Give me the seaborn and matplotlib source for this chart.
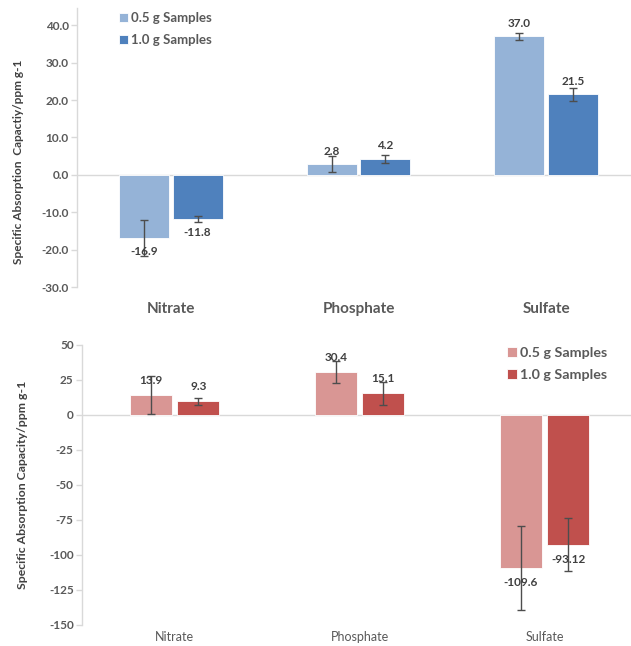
import matplotlib
matplotlib.use("Agg")
import matplotlib.pyplot as plt
import seaborn as sns
import pandas as pd
import numpy as np

# Ion categories and sample-mass series
anions = ["Nitrate", "Phosphate", "Sulfate"]
series = ["0.5 g Samples", "1.0 g Samples"]

# Upper panel: specific absorption capacity and error
top_05 = [-16.9, 2.8, 37.0]
top_10 = [-11.8, 4.2, 21.5]
top_05_err = [4.7, 2.1, 1.0]
top_10_err = [0.8, 1.0, 1.8]
top_ticks = [40.0, 30.0, 20.0, 10.0, 0.0, -10.0, -20.0, -30.0]

# Lower panel: specific absorption capacity and error
bot_05 = [13.9, 30.4, -109.6]
bot_10 = [9.3, 15.1, -93.12]
bot_05_err = [13.5, 8.1, 30.0]
bot_10_err = [2.5, 8.0, 19.0]
bot_labels_05 = ["13.9", "30.4", "-109.6"]
bot_labels_10 = ["9.3", "15.1", "-93.12"]
bot_ticks = [50, 25, 0, -25, -50, -75, -100, -125, -150]

sns.set_theme(style="white")
plt.rcParams["font.family"] = ["Lato", "DejaVu Sans"]

TEXT = "#595959"
LABEL = "#404040"
GRID = "#D9D9D9"


def frame(v05, v10):
    return pd.DataFrame({
        "anion": anions * 2,
        "series": [series[0]] * 3 + [series[1]] * 3,
        "value": list(v05) + list(v10),
    })


def draw(ax, df, palette, width, gap, errs, labels, offset):
    sns.barplot(data=df, x="anion", y="value", hue="series", order=anions,
                hue_order=series, palette=palette, width=width, gap=gap,
                errorbar=None, ax=ax, saturation=1, edgecolor="white",
                linewidth=0.6)
    for cont, err, labs, vals in zip(ax.containers, errs, labels,
                                     [df.value[:3].tolist(), df.value[3:].tolist()]):
        xs = [b.get_x() + b.get_width() / 2 for b in cont]
        ax.errorbar(xs, vals, yerr=err, fmt="none", ecolor="#4D4D4D",
                    elinewidth=1.0, capsize=3, capthick=1.0, zorder=4)
        for x, v, t in zip(xs, vals, labs):
            ax.annotate(t, (x, v), xytext=(0, offset if v >= 0 else -offset),
                        textcoords="offset points", ha="center", va="center",
                        fontsize=8.5, fontweight="bold", color=LABEL, zorder=5)
    ax.axhline(0, color=GRID, lw=1.0, zorder=0)
    for s in ["top", "right", "bottom"]:
        ax.spines[s].set_visible(False)
    ax.spines["left"].set_color(GRID)
    ax.spines["left"].set_linewidth(1.0)
    ax.tick_params(axis="y", which="both", left=True, length=4, width=1.0,
                   color=GRID, labelcolor=TEXT, pad=2)
    ax.tick_params(axis="x", length=0)
    ax.set_xlabel("")
    ax.set_xlim(-0.5, 2.5)


fig = plt.figure(figsize=(6.31, 6.46), dpi=100)

# ---- upper panel (blue) ----
ax1 = fig.add_axes([77 / 631, 1 - 287 / 646, (640 - 77) / 631, 279 / 646])
draw(ax1, frame(top_05, top_10), ["#95B3D7", "#4F81BD"], 0.57, 0.067,
     [top_05_err, top_10_err],
     [[f"{v:.1f}" for v in top_05], [f"{v:.1f}" for v in top_10]], 9.5)
ax1.set_ylim(-30, 44.6)
ax1.set_yticks(top_ticks)
ax1.set_yticklabels([f"{t:.1f}" for t in top_ticks], fontsize=8.5,
                    fontweight="bold")
ax1.set_xticks(range(3))
ax1.set_xticklabels(anions, fontsize=11, fontweight="bold", color=TEXT)
ax1.tick_params(axis="x", pad=11)
ax1.set_ylabel("Specific Absorption  Capactiy/ppm g-1", fontsize=8.6,
               fontweight="bold", color=LABEL)
ax1.yaxis.set_label_coords(-0.094, 0.45)
leg1 = ax1.legend(loc="upper left", bbox_to_anchor=(0.065, 1.003), frameon=False,
                  handlelength=0.7, handleheight=0.7, handletextpad=0.25,
                  labelspacing=0.75, fontsize=9.5, borderaxespad=0)
for t in leg1.get_texts():
    t.set_color(TEXT)
    t.set_fontweight("bold")

# ---- lower panel (red) ----
ax2 = fig.add_axes([82 / 631, 1 - 624.5 / 646, (637 - 82) / 631, 280 / 646])
draw(ax2, frame(bot_05, bot_10), ["#D99694", "#C0504D"], 0.514, 0.117,
     [bot_05_err, bot_10_err], [bot_labels_05, bot_labels_10], 10.5)
ax2.set_ylim(-150, 50)
ax2.set_yticks(bot_ticks)
ax2.set_yticklabels([str(t) for t in bot_ticks], fontsize=8.5,
                    fontweight="bold")
ax2.set_xticks(range(3))
ax2.set_xticklabels(anions, fontsize=9, color=TEXT)
ax2.tick_params(axis="x", pad=5)
ax2.set_ylabel("Specific Absorption Capacity/ppm g-1", fontsize=8.8,
               fontweight="bold", color=LABEL)
ax2.yaxis.set_label_coords(-0.097, 0.5)
leg2 = ax2.legend(loc="upper left", bbox_to_anchor=(0.755, 1.01), frameon=False,
                  handlelength=0.7, handleheight=0.7, handletextpad=0.25,
                  labelspacing=0.65, fontsize=10.3, borderaxespad=0)
for t in leg2.get_texts():
    t.set_color(TEXT)
    t.set_fontweight("bold")

fig.savefig("out.png", dpi=100)
